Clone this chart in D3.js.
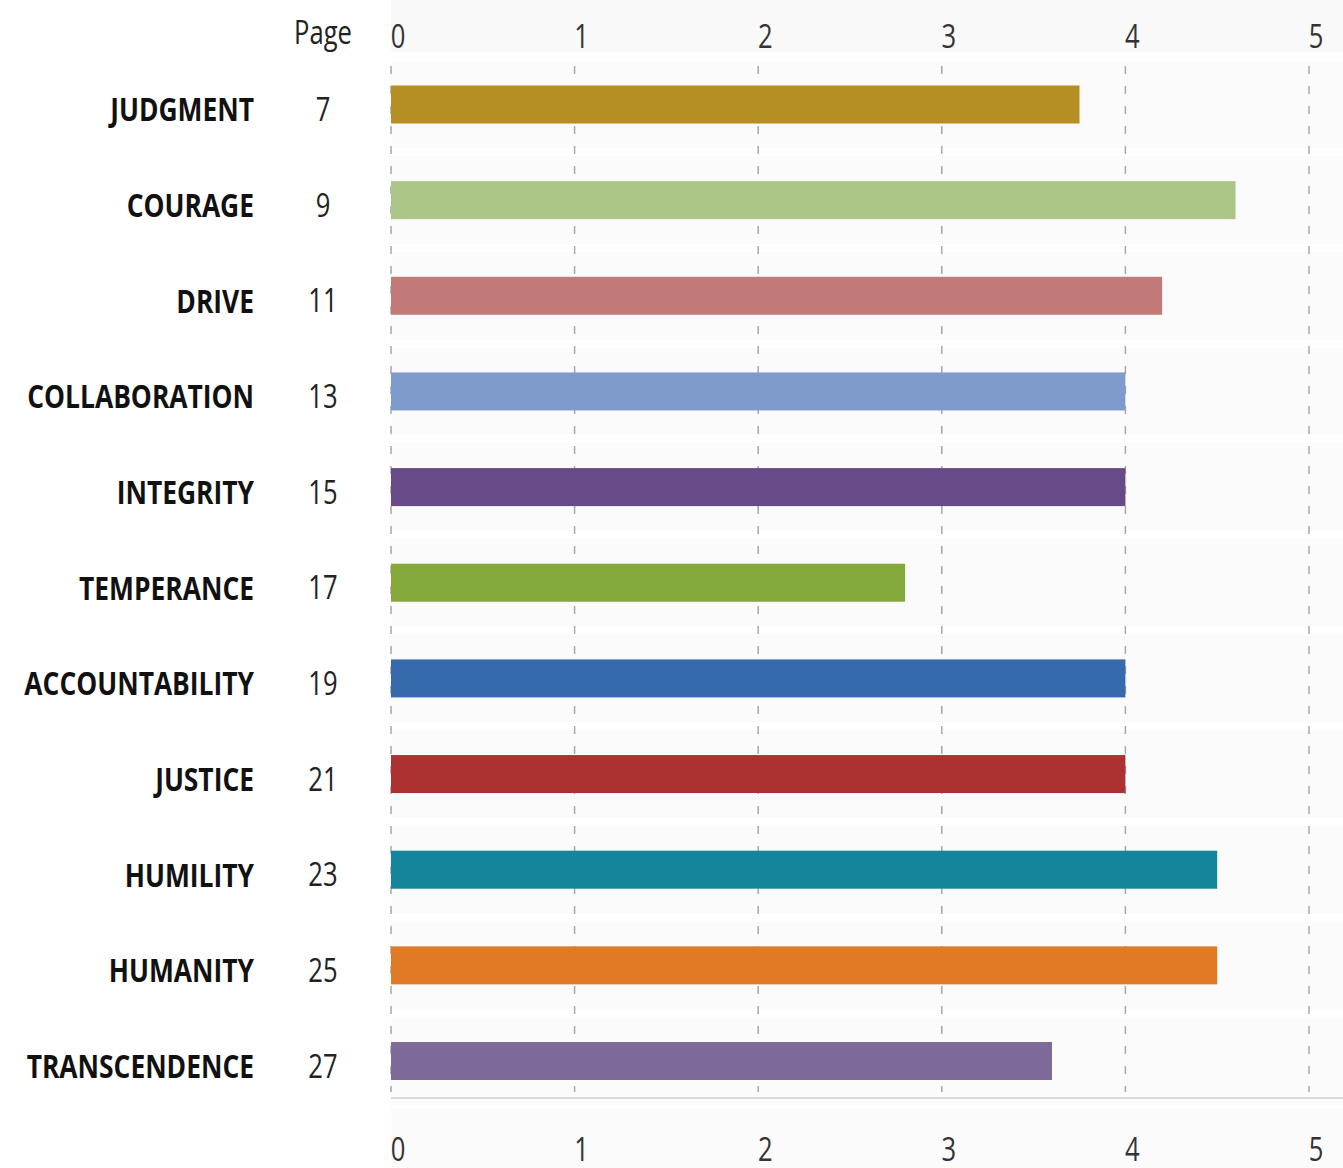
<!DOCTYPE html>
<html lang="en">
<head>
<meta charset="utf-8">
<title>Virtues</title>
<script src="https://cdn.jsdelivr.net/npm/d3@7"></script>
<style>
  body { margin: 0; background: #fff; }
  .lbl { font-family: "Open Sans", sans-serif; font-weight: bold; font-size: 33px; fill: #111; }
  .num { font-family: "Open Sans", sans-serif; font-size: 32px; fill: #222; }
  .tick_text { font-family: "Open Sans", sans-serif; font-size: 32px; fill: #333; }
</style>
</head>
<body>
<div id="chart"></div>
<script>
var categories = ["JUDGMENT", "COURAGE", "DRIVE", "COLLABORATION", "INTEGRITY", "TEMPERANCE",
  "ACCOUNTABILITY", "JUSTICE", "HUMILITY", "HUMANITY", "TRANSCENDENCE"];
var pages = [7, 9, 11, 13, 15, 17, 19, 21, 23, 25, 27];
var values = [3.75, 4.6, 4.2, 4.0, 4.0, 2.8, 4.0, 4.0, 4.5, 4.5, 3.6];
var colors = ["#b58f22", "#abc686", "#c27a78", "#7f9bcc", "#674a88", "#84a83c",
  "#366aad", "#ab3231", "#13869c", "#e07a24", "#7e6a98"];
var ticks = [0, 1, 2, 3, 4, 5];

var width = 1343, height = 1168;
var squeeze = 0.8; // text in the source is narrow, like Calibri

var svg = d3.select("#chart").append("svg")
  .attr("width", width)
  .attr("height", height);

var x = d3.scaleLinear().domain([0, 5]).range([391, 1309]);
var y = d3.scalePoint().domain(categories).range([104.5, 1061]);
var step = y.step();
var barH = 38;

// narrow text helper
function placeText(sel, fx, fy) {
  sel.attr("transform", function(d, i) {
    return "translate(" + fx(d, i) + "," + fy(d, i) + ") scale(" + squeeze + ",1)";
  });
}

// faint row bands
svg.append("g").selectAll("rect")
  .data(categories)
  .enter().append("rect")
  .attr("x", x(0))
  .attr("y", function(d) { return y(d) - step / 2 + 4; })
  .attr("width", width - x(0))
  .attr("height", step - 8)
  .style("fill", "#fbfbfb");
svg.append("rect").attr("x", x(0)).attr("y", 0).attr("width", width - x(0)).attr("height", 52).style("fill", "#f9f9f9");
svg.append("rect").attr("x", x(0)).attr("y", 1108).attr("width", width - x(0)).attr("height", 60).style("fill", "#fbfbfb");

// dashed grid
svg.append("g").selectAll("line")
  .data(ticks)
  .enter().append("line")
  .attr("x1", function(d) { return x(d); })
  .attr("x2", function(d) { return x(d); })
  .attr("y1", 66)
  .attr("y2", 1092)
  .style("stroke", "#a8a8a8")
  .style("stroke-width", 1.5)
  .style("stroke-dasharray", "8,12");

// bottom axis line
svg.append("line")
  .attr("x1", x(0)).attr("x2", width)
  .attr("y1", 1098).attr("y2", 1098)
  .style("stroke", "#d9d9d9").style("stroke-width", 2);

// bars
svg.append("g").selectAll("rect")
  .data(values)
  .enter().append("rect")
  .attr("x", x(0))
  .attr("y", function(d, i) { return y(categories[i]) - barH / 2; })
  .attr("width", function(d) { return x(d) - x(0); })
  .attr("height", barH)
  .style("fill", function(d, i) { return colors[i]; });

// tick labels top and bottom
[36, 1149].forEach(function(ty) {
  svg.append("g").selectAll("text")
    .data(ticks)
    .enter().append("text")
    .attr("class", "tick_text")
    .attr("dy", "0.36em")
    .attr("text-anchor", "middle")
    .text(function(d) { return d; })
    .call(placeText, function(d) { return x(d) + 7; }, function() { return ty; });
});

// category labels
svg.append("g").selectAll("text")
  .data(categories)
  .enter().append("text")
  .attr("class", "lbl")
  .attr("dy", "0.36em")
  .attr("text-anchor", "end")
  .text(function(d) { return d; })
  .call(placeText, function() { return 254; }, function(d) { return y(d) + 5; });

// page numbers
svg.append("text")
  .attr("class", "num")
  .attr("dy", "0.36em")
  .attr("text-anchor", "middle")
  .text("Page")
  .call(placeText, function() { return 323; }, function() { return 32; });
svg.append("g").selectAll("text")
  .data(pages)
  .enter().append("text")
  .attr("class", "num")
  .attr("dy", "0.36em")
  .attr("text-anchor", "middle")
  .text(function(d) { return d; })
  .call(placeText, function() { return 323; }, function(d, i) { return y(categories[i]) + 5; });
</script>
</body>
</html>
